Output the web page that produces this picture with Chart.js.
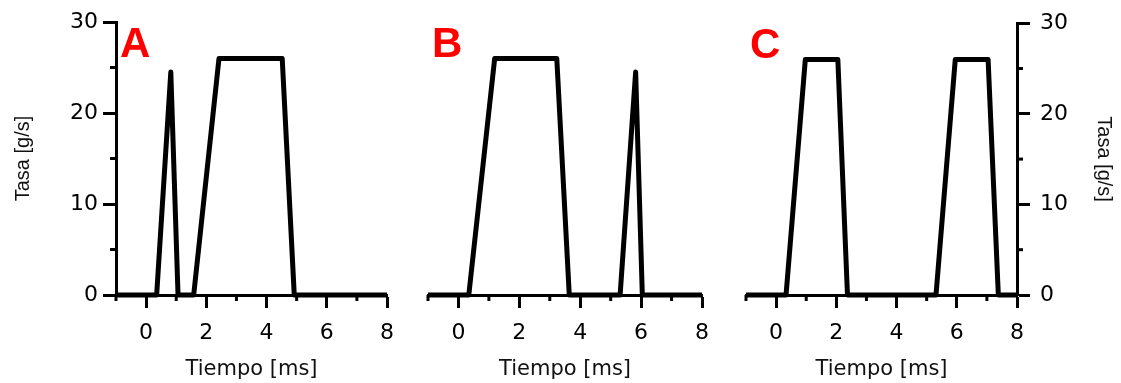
<!DOCTYPE html>
<html>
<head>
<meta charset="utf-8">
<script src="https://cdn.jsdelivr.net/npm/chart.js@4"></script>
<style>
  html, body { margin: 0; padding: 0; background: #fff; }
  #wrap { position: relative; width: 1121px; height: 383px; }
  #wrap canvas { position: absolute; left: 0; top: 0; }
</style>
</head>
<body>
<div id="wrap">
  <canvas id="chartA" width="1121" height="383"></canvas>
  <canvas id="chartB" width="1121" height="383"></canvas>
  <canvas id="chartC" width="1121" height="383"></canvas>
</div>
<script>
// tick values
const X_MAJOR = [0, 2, 4, 6, 8];
const X_MINOR = [-1, 1, 3, 5, 7];
const Y_MAJOR = [0, 10, 20, 30];
const Y_MINOR = [5, 15, 25];

// panel A: short pulse then long pulse
const A_TIME = [-1, 0.35, 0.82, 1.06, 1.58, 2.42, 4.52, 4.92, 8];
const A_RATE = [0, 0, 24.5, 0, 0, 26, 26, 0, 0];

// panel B: long pulse then short pulse
const B_TIME = [-1, 0.34, 1.19, 3.23, 3.64, 5.31, 5.82, 6.04, 8];
const B_RATE = [0, 0, 26, 26, 0, 0, 24.5, 0, 0];

// panel C: two medium pulses
const C_TIME = [-1, 0.33, 0.97, 2.05, 2.37, 5.31, 5.95, 7.04, 7.38, 8];
const C_RATE = [0, 0, 26, 26, 0, 0, 26, 26, 0, 0];

const TICK_FONT = { family: "DejaVu Sans", size: 22 };
const TITLE_FONT = { family: "DejaVu Sans", size: 21 };
const YTITLE_FONT = { family: "Liberation Sans", size: 20 };

// small ticks at the odd values, drawn with the scales' own pixel mapping
const minorTicks = {
  id: "minorTicks",
  afterDraw(chart) {
    const ctx = chart.ctx;
    const xs = chart.scales.x;
    const ys = chart.scales.y;
    ctx.save();
    ctx.strokeStyle = "#000";
    ctx.lineWidth = 3;
    X_MINOR.forEach(v => {
      const px = xs.getPixelForValue(v);
      ctx.beginPath();
      ctx.moveTo(px, xs.top);
      ctx.lineTo(px, xs.top + 6);
      ctx.stroke();
    });
    if (ys.options.display) {
      const left = ys.options.position === "left";
      const x0 = left ? ys.right : ys.left;
      Y_MINOR.forEach(v => {
        const py = ys.getPixelForValue(v);
        ctx.beginPath();
        ctx.moveTo(x0, py);
        ctx.lineTo(left ? x0 - 6 : x0 + 6, py);
        ctx.stroke();
      });
    }
    ctx.restore();
  }
};

// red panel letter in the top left corner of the plot area
const panelLetter = {
  id: "panelLetter",
  afterDraw(chart, args, opts) {
    const ctx = chart.ctx;
    const area = chart.chartArea;
    ctx.save();
    ctx.fillStyle = "#ff0000";
    ctx.font = "bold 42px 'Liberation Sans'";
    ctx.textBaseline = "alphabetic";
    ctx.fillText(opts.text, area.left + 4, area.top + 35);
    ctx.restore();
  }
};

function makeChart(id, letter, times, rates, yPos, pad) {
  const points = times.map((t, i) => ({ x: t, y: rates[i] }));
  const yShown = yPos !== null;
  new Chart(document.getElementById(id), {
    type: "line",
    data: {
      datasets: [{
        data: points,
        borderColor: "#000",
        borderWidth: 5,
        borderJoinStyle: "round",
        pointRadius: 0,
        tension: 0,
        clip: false
      }]
    },
    options: {
      responsive: false,
      animation: false,
      devicePixelRatio: 1,
      layout: { padding: pad },
      plugins: {
        legend: { display: false },
        tooltip: { enabled: false },
        panelLetter: { text: letter }
      },
      scales: {
        x: {
          type: "linear",
          min: -1,
          max: 8,
          afterBuildTicks: s => { s.ticks = X_MAJOR.map(v => ({ value: v })); },
          afterFit: s => { s.height = 88; },
          border: { display: true, color: "#000", width: 3 },
          grid: { drawOnChartArea: false, drawTicks: true, tickLength: 13, tickWidth: 3, tickColor: "#000" },
          ticks: { color: "#000", font: TICK_FONT, padding: 12, maxRotation: 0, autoSkip: false },
          title: { display: true, text: "Tiempo [ms]", color: "#111", font: TITLE_FONT, padding: { top: 0, bottom: 1 } }
        },
        y: {
          display: yShown,
          position: yShown ? yPos : "left",
          min: 0,
          max: 30,
          afterBuildTicks: s => { s.ticks = Y_MAJOR.map(v => ({ value: v })); },
          afterFit: s => { s.width = !yShown ? 0 : (yPos === "right" ? 104 : 116); },
          border: { display: true, color: "#000", width: 3 },
          grid: { drawOnChartArea: false, drawTicks: true, tickLength: 13, tickWidth: 3, tickColor: "#000" },
          ticks: { color: "#000", font: TICK_FONT, padding: yPos === "right" ? 10 : 5 },
          title: {
            display: true, text: "Tasa [g/s]", color: "#111", font: YTITLE_FONT,
            padding: { top: yPos === "right" ? 5 : 11, bottom: 0 }
          }
        }
      }
    },
    plugins: [minorTicks, panelLetter]
  });
}

makeChart("chartA", "A", A_TIME, A_RATE, "left", { left: 0, right: 734, top: 22, bottom: 0 });
makeChart("chartB", "B", B_TIME, B_RATE, null, { left: 428, right: 419, top: 22, bottom: 0 });
makeChart("chartC", "C", C_TIME, C_RATE, "right", { left: 746, right: 0, top: 22, bottom: 0 });
</script>
</body>
</html>
